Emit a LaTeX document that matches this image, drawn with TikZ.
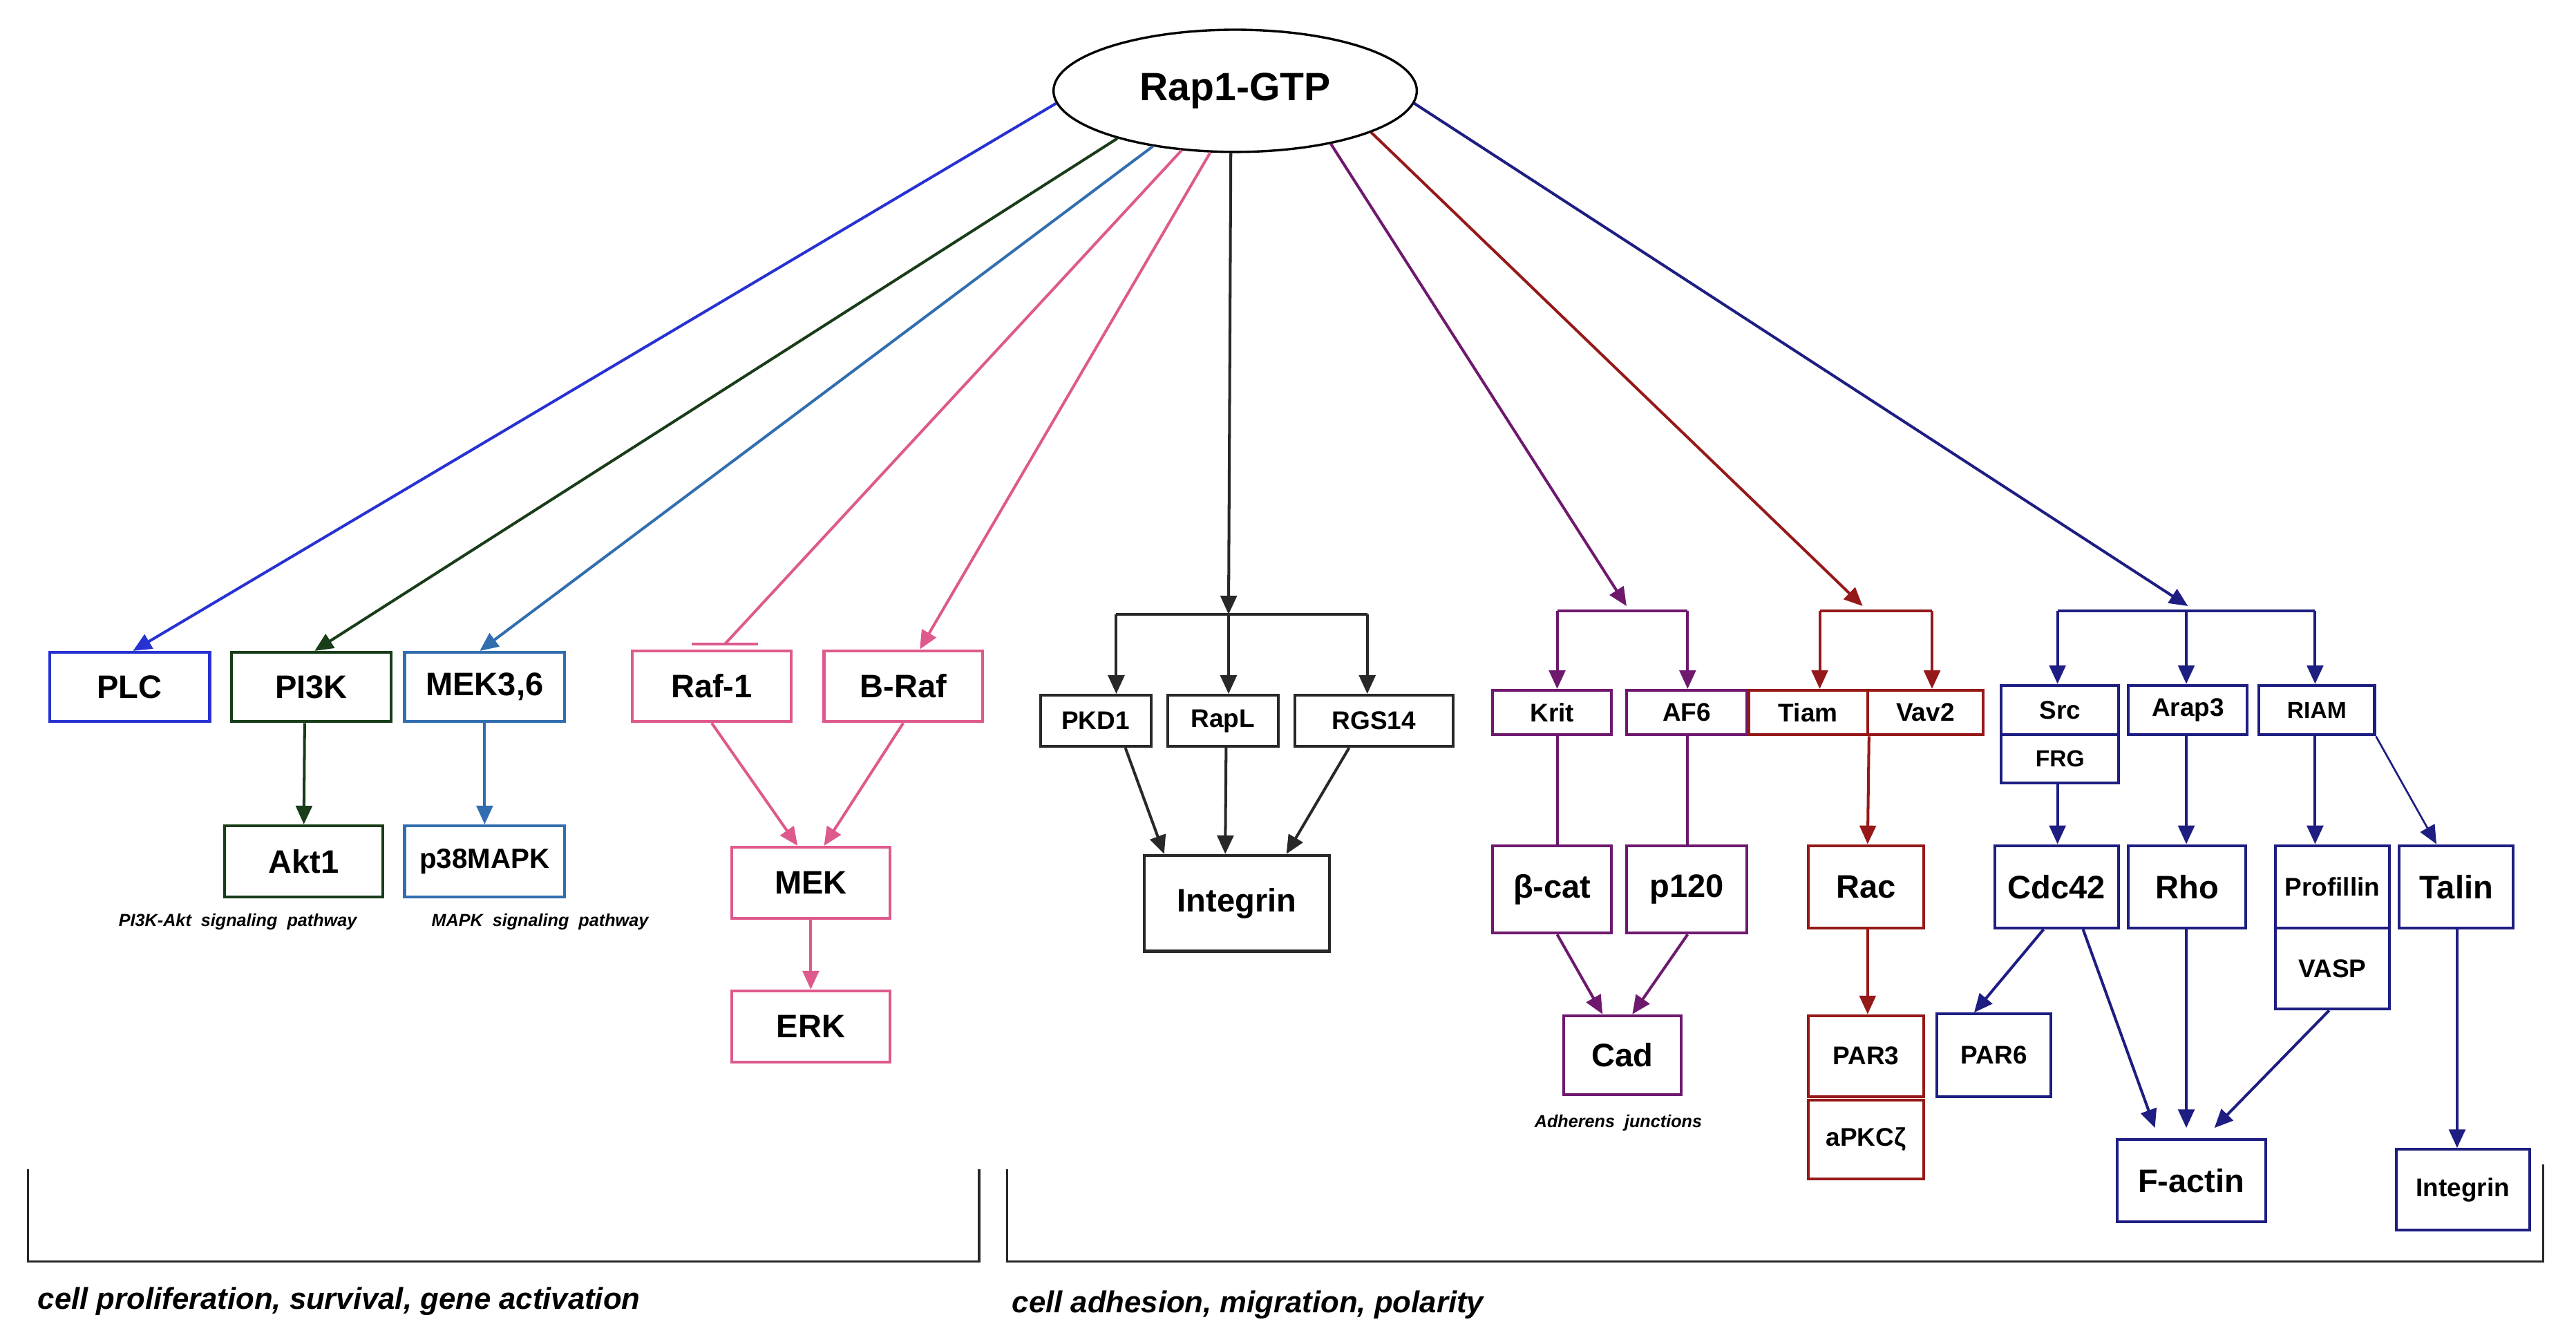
\documentclass[tikz,border=0pt]{standalone}
\usepackage{fontspec}
\setmainfont{Liberation Sans}
\usetikzlibrary{arrows.meta,shapes.geometric}
\definecolor{cblue}{RGB}{40,50,210}
\definecolor{cgreen}{RGB}{25,60,25}
\definecolor{csteel}{RGB}{50,110,175}
\definecolor{cpink}{RGB}{222,90,140}
\definecolor{cpurp}{RGB}{110,25,110}
\definecolor{cred}{RGB}{150,25,25}
\definecolor{cnavy}{RGB}{30,30,130}
\definecolor{cblk}{RGB}{40,40,40}
\def\q{0.025cm}
\newcommand\bx[7]{\node[box,draw=#2,minimum width={(#5-#3)*0.025cm},minimum height={(#6-#4)*0.025cm}] (#1) at ({(#3+#5)/2},{(#4+#6)/2}) {#7};}
\begin{document}
\begin{tikzpicture}[x=0.025cm,y=-0.025cm,
  box/.style={draw,line width=1.2pt,inner sep=0pt,font=\bfseries\fontsize{14}{16}\selectfont,text=black},
  sm/.style={font=\bfseries\fontsize{11}{13}\selectfont},
  ln/.style={line width=1.2pt},
  ar/.style={ln,-{Triangle[length=8pt,width=7pt]}},
  lab/.style={font=\bfseries\itshape\fontsize{7.5}{9}\selectfont,text=black},
  big/.style={font=\bfseries\itshape\fontsize{13}{15}\selectfont,text=black,anchor=west}]
\useasboundingbox (0,0) rectangle (1560,812.6);
\node[draw,ellipse,line width=1pt,minimum width=220*0.025cm,minimum height=74*0.025cm,font=\bfseries\fontsize{17}{19}\selectfont] (rap) at (748,55) {Rap1-GTP};
% left group
\bx{plc}{cblue}{30}{395}{127}{437}{PLC}
\bx{pi3k}{cgreen}{140}{395}{237}{437}{PI3K}
\bx{mek36}{csteel}{245}{395}{342}{437}{MEK3,6}
\bx{akt}{cgreen}{136}{500}{232}{543}{Akt1}
\node[box,draw=csteel,font=\bfseries\fontsize{12}{14}\selectfont,minimum width=97*\q,minimum height=43*\q] (p38) at (293.5,521.5) {p38MAPK};
\node[lab] (l1) at (144,558) {PI3K-Akt\ \ signaling\ \ pathway};
\node[lab] (l2) at (327,558) {MAPK\ \ signaling\ \ pathway};
\draw[ar,cblue] (rap.184) -- ([xshift=2*\q]plc.north);
\draw[ar,cgreen] (rap.202) -- ([xshift=2*\q]pi3k.north);
\draw[ar,csteel] (rap.214) -- ([xshift=-3*\q]mek36.north);
\draw[ar,cgreen] ([xshift=-4*\q]pi3k.south) -- ([xshift=0*\q]akt.north);
\draw[ar,csteel] (mek36.south) -- (p38.north);
% raf
\bx{raf1}{cpink}{383}{394}{479}{437}{Raf-1}
\bx{braf}{cpink}{499}{394}{595}{437}{B-Raf}
\bx{mek}{cpink}{443}{513}{539}{556}{MEK}
\bx{erk}{cpink}{443}{600}{539}{643}{ERK}
\coordinate (bar) at (439,390);
\draw[ln,cpink] (rap.228) -- (bar);
\draw[ln,cpink] ([xshift=-20*\q]bar) -- ([xshift=20*\q]bar);
\draw[ar,cpink] (rap.248) -- ([xshift=10*\q]braf.north);
\draw[ar,cpink] (raf1.south) -- ([xshift=-8*\q]mek.north);
\draw[ar,cpink] (braf.south) -- ([xshift=8*\q]mek.north);
\draw[ar,cpink] (mek.south) -- (erk.north);
% black
\bx{pkd}{cblk}{630}{421}{697}{452}{\fontsize{11}{13}\selectfont PKD1}
\bx{rapl}{cblk}{707}{421}{774}{452}{\fontsize{11}{13}\selectfont RapL}
\bx{rgs}{cblk}{784}{421}{880}{452}{\fontsize{11}{13}\selectfont RGS14}
\bx{int1}{cblk}{693}{518}{805}{576}{Integrin}
\coordinate (kb) at (744,372);
\draw[ar,cblk] (rap.266) -- (kb);
\draw[ln,cblk] (676,372) -- (828,372);
\draw[ar,cblk] (676,372) -- (pkd.north -| 676,372);
\draw[ar,cblk] (744,372) -- (rapl.north -| 744,372);
\draw[ar,cblk] (828,372) -- (rgs.north -| 828,372);
\draw[ar,cblk] ([xshift=18*\q]pkd.south) -- ([xshift=-44*\q]int1.north);
\draw[ar,cblk] ([xshift=2*\q]rapl.south) -- ([xshift=-7*\q]int1.north);
\draw[ar,cblk] ([xshift=-15*\q]rgs.south) -- ([xshift=30*\q]int1.north);
% purple
\bx{krit}{cpurp}{904}{418}{976}{445}{\fontsize{11}{13}\selectfont Krit}
\bx{af6}{cpurp}{985}{418}{1058}{445}{\fontsize{11}{13}\selectfont AF6}
\bx{bcat}{cpurp}{904}{512}{976}{565}{β-cat}
\bx{p120}{cpurp}{985}{512}{1058}{565}{p120}
\bx{cad}{cpurp}{947}{615}{1018}{663}{Cad}
\node[lab] (l3) at (980,680) {Adherens\ \ junctions};
\coordinate (pb) at (985,367);
\draw[ar,cpurp] (rap.331) -- (pb);
\draw[ln,cpurp] (943,370) -- (1022,370);
\draw[ar,cpurp] (943,370) -- (krit.north -| 943,370);
\draw[ar,cpurp] (1022,370) -- (af6.north -| 1022,370);
\draw[ln,cpurp] (krit.south -| 943,0) -- (bcat.north -| 943,0);
\draw[ln,cpurp] (af6.south -| 1022,0) -- (p120.north -| 1022,0);
\draw[ar,cpurp] (bcat.south -| 943,0) -- ([xshift=-12*\q]cad.north);
\draw[ar,cpurp] (p120.south -| 1022,0) -- ([xshift=6*\q]cad.north);
% dark red
\bx{tiam}{cred}{1059}{418}{1131}{445}{\fontsize{11}{13}\selectfont Tiam}
\bx{vav}{cred}{1131}{418}{1201}{445}{\fontsize{11}{13}\selectfont Vav2}
\bx{rac}{cred}{1095}{512}{1165}{562}{Rac}
\bx{par3}{cred}{1095}{615}{1165}{664}{\fontsize{11}{13}\selectfont PAR3}
\bx{apkc}{cred}{1095}{666}{1165}{714}{\fontsize{11}{13}\selectfont aPKCζ}
\coordinate (rb) at (1128,367);
\draw[ar,cred] (rap.343) -- (rb);
\draw[ln,cred] (1102,370) -- (1170,370);
\draw[ar,cred] (1102,370) -- (tiam.north -| 1102,370);
\draw[ar,cred] (1170,370) -- (vav.north -| 1170,370);
\draw[ar,cred] (tiam.south east) -- (rac.north -| 1131,0);
\draw[ar,cred] (rac.south -| 1131,0) -- (par3.north -| 1131,0);
% navy
\bx{src}{cnavy}{1212}{415}{1283}{445}{\fontsize{11}{13}\selectfont Src}
\bx{frg}{cnavy}{1212}{445}{1283}{474}{\fontsize{10}{12}\selectfont FRG}
\bx{arap}{cnavy}{1289}{415}{1361}{445}{\fontsize{11}{13}\selectfont Arap3}
\bx{riam}{cnavy}{1368}{415}{1438}{445}{\fontsize{10}{12}\selectfont RIAM}
\bx{cdc}{cnavy}{1208}{512}{1283}{562}{Cdc42}
\bx{rho}{cnavy}{1289}{512}{1360}{562}{Rho}
\bx{prof}{cnavy}{1378}{512}{1447}{562}{\fontsize{11}{13}\selectfont Profillin}
\bx{vasp}{cnavy}{1378}{562}{1447}{611}{\fontsize{11}{13}\selectfont VASP}
\bx{talin}{cnavy}{1453}{512}{1522}{562}{Talin}
\bx{par6}{cnavy}{1173}{614}{1242}{664}{\fontsize{11}{13}\selectfont PAR6}
\bx{fact}{cnavy}{1282}{690}{1372}{740}{F-actin}
\bx{int2}{cnavy}{1451}{696}{1532}{745}{\fontsize{11}{13}\selectfont Integrin}
\coordinate (nb) at (1325,367);
\draw[ar,cnavy] (rap.356) -- (nb);
\draw[ln,cnavy] (1246,370) -- (1402,370);
\draw[ar,cnavy] (1246,370) -- (src.north -| 1246,0);
\draw[ar,cnavy] (1324,370) -- (arap.north -| 1324,0);
\draw[ar,cnavy] (1402,370) -- (riam.north -| 1402,0);
\draw[ar,cnavy] (frg.south -| 1246,0) -- (cdc.north -| 1246,0);
\draw[ar,cnavy] (arap.south -| 1324,0) -- (rho.north -| 1324,0);
\draw[ar,cnavy] (riam.south -| 1402,0) -- (prof.north -| 1402,0);
\draw[cnavy,line width=0.8pt,-{Triangle[length=8pt,width=7pt]}] (riam.south east) -- ([xshift=-12*\q]talin.north);
\draw[ar,cnavy] (talin.south -| 1488,0) -- (int2.north -| 1488,0);
\draw[ar,cnavy] ([xshift=-8*\q]cdc.south) -- ([xshift=-12*\q]par6.north);
\draw[ar,cnavy] ([xshift=16*\q]cdc.south) -- (1305,683);
\draw[ar,cnavy] (rho.south -| 1324,0) -- (1324,683);
\draw[ar,cnavy] ([xshift=-2*\q]vasp.south) -- (1341,683);
% brackets
\draw[line width=1pt,cblk] (17,708) -- (17,764) -- (593,764) -- (593,708);
\draw[line width=1pt,cblk] (610,708) -- (610,764) -- (1540,764) -- (1540,705);
\node[big] (b1) at (18,788) {cell proliferation, survival, gene activation};
\node[big] (b2) at (608,790) {cell adhesion, migration, polarity};
\end{tikzpicture}
\end{document}
